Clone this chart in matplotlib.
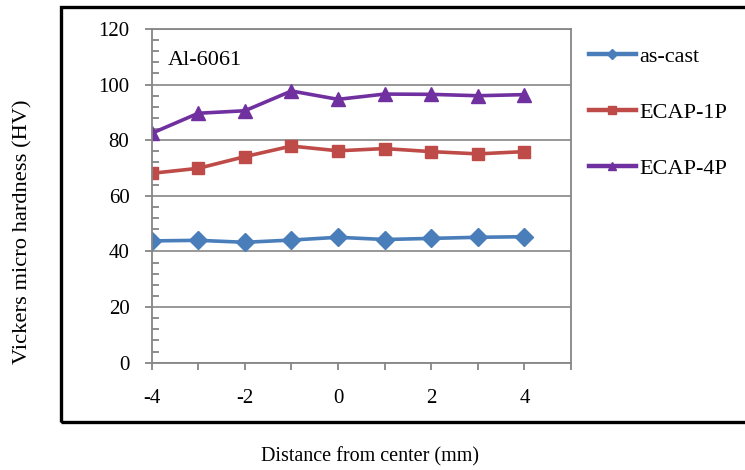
import numpy as np
import matplotlib.pyplot as plt
from matplotlib.patches import Rectangle
from matplotlib.ticker import MultipleLocator

plt.rcParams['font.family'] = ['Liberation Serif', 'DejaVu Serif']

# readings along the sample (distance from center in mm)
dist = [-4, -3, -2, -1, 0, 1, 2, 3, 4]
as_cast = [43.8, 44.0, 43.3, 44.1, 45.1, 44.3, 44.7, 45.1, 45.3]
ecap_1p = [68.1, 69.9, 74.1, 77.9, 76.2, 77.0, 75.9, 75.1, 75.9]
ecap_4p = [82.5, 89.7, 90.6, 97.7, 94.7, 96.6, 96.5, 96.0, 96.4]

grey = '#868686'

fig = plt.figure(figsize=(7.45, 4.7), dpi=100)
ax = fig.add_axes([0.2036, 0.2283, 0.5628, 0.71])

ax.plot(dist, as_cast, color='#4A7EBB', lw=2.6, marker='D', ms=9, label='as-cast')
ax.plot(dist, ecap_1p, color='#BE4B48', lw=2.6, marker='s', ms=8.5, label='ECAP-1P')
ax.plot(dist, ecap_4p, color='#7030A0', lw=2.6, marker='^', ms=10, label='ECAP-4P')

ax.set_xlim(-4, 5)
ax.set_ylim(0, 120)
ax.set_xticks(range(-4, 6))
ax.set_xticklabels([str(v) if v % 2 == 0 and v < 5 else '' for v in range(-4, 6)])
ax.set_yticks(range(0, 121, 20))
ax.yaxis.set_minor_locator(MultipleLocator(4))
ax.grid(axis='y', color=grey, lw=1.2)
ax.set_axisbelow(True)

for s in ax.spines.values():
    s.set_color(grey)
    s.set_linewidth(1.3)
ax.tick_params(axis='both', which='major', direction='out', length=5, width=1.3,
               color=grey, labelsize=15)
ax.tick_params(axis='y', which='major', pad=11)
ax.tick_params(axis='x', which='major', pad=14)
ax.tick_params(axis='y', which='minor', direction='in', length=5, width=1.3, color=grey)

ax.text(0.039, 0.907, 'Al-6061', transform=ax.transAxes, fontsize=16, va='center')

leg = fig.legend(loc='upper left', bbox_to_anchor=(589 / 745, 1 - 46 / 470), frameon=False,
                 fontsize=16, handlelength=2.1, handletextpad=0.15, labelspacing=1.6,
                 borderpad=0, borderaxespad=0, markerscale=0.6)
for h in leg.legend_handles:
    h.set_linewidth(3.2)

fig.text(23 / 745, 1 - 232 / 470, 'Vickers micro hardness (HV)', rotation=90,
         ha='center', va='center', fontsize=16.2)
fig.text(370 / 745, 1 - 457 / 470, 'Distance from center (mm)', ha='center',
         va='center', fontsize=14.5)

fig.patches.append(Rectangle((61 / 745, 1 - 422 / 470), 0.95, (422 - 7) / 470,
                             transform=fig.transFigure, fill=False, ec='black',
                             lw=2.4, clip_on=False))

fig.savefig('out.png', dpi=100)
